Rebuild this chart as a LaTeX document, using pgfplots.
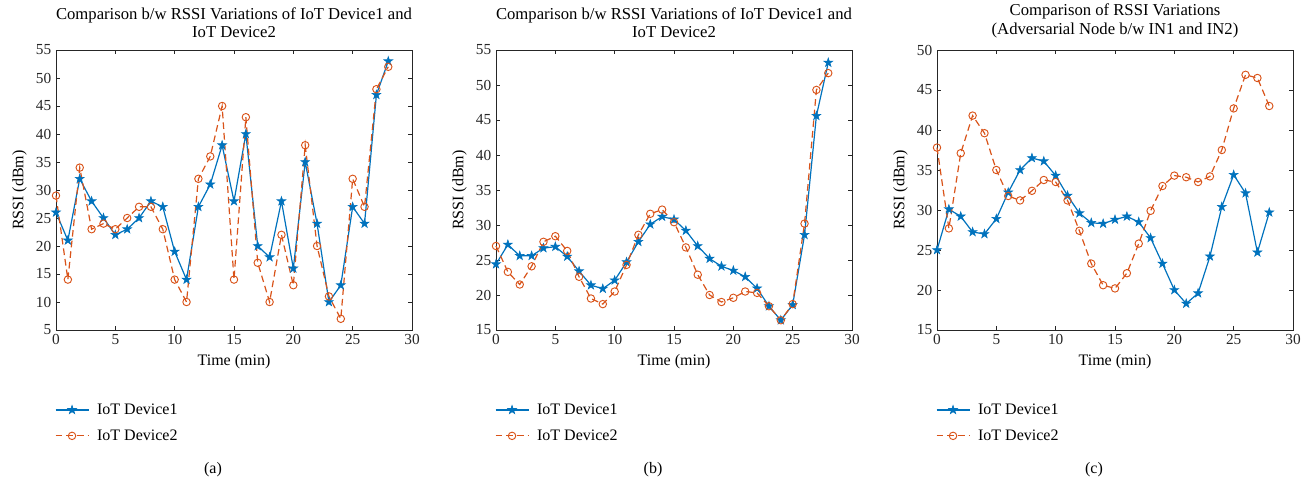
\documentclass[border=0pt]{standalone}
\usepackage{fontspec}
\setmainfont{Liberation Serif}
\usepackage{pgfplots}
\usepackage{pgfplotstable}
\pgfplotsset{compat=1.18}
\definecolor{mblue}{RGB}{0,114,189}
\definecolor{morange}{RGB}{217,83,25}
\definecolor{axgray}{RGB}{38,38,38}

\pgfdeclareplotmark{pstar}{%
  \pgfpathmoveto{\pgfpointpolar{90}{1.3\pgfplotmarksize}}%
  \pgfpathlineto{\pgfpointpolar{126}{0.5\pgfplotmarksize}}%
  \pgfpathlineto{\pgfpointpolar{162}{1.3\pgfplotmarksize}}%
  \pgfpathlineto{\pgfpointpolar{198}{0.5\pgfplotmarksize}}%
  \pgfpathlineto{\pgfpointpolar{234}{1.3\pgfplotmarksize}}%
  \pgfpathlineto{\pgfpointpolar{270}{0.5\pgfplotmarksize}}%
  \pgfpathlineto{\pgfpointpolar{306}{1.3\pgfplotmarksize}}%
  \pgfpathlineto{\pgfpointpolar{342}{0.5\pgfplotmarksize}}%
  \pgfpathlineto{\pgfpointpolar{18}{1.3\pgfplotmarksize}}%
  \pgfpathlineto{\pgfpointpolar{54}{0.5\pgfplotmarksize}}%
  \pgfpathclose
  \pgfusepathqfillstroke
}

% panel (a)
\pgfplotstableread{
x d1 d2
0 26 29
1 21 14
2 32 34
3 28 23
4 25 24
5 22 23
6 23 25
7 25 27
8 28 27
9 27 23
10 19 14
11 14 10
12 27 32
13 31 36
14 38 45
15 28 14
16 40 43
17 20 17
18 18 10
19 28 22
20 16 13
21 35 38
22 24 20
23 10 11
24 13 7
25 27 32
26 24 27
27 47 48
28 53 52
}\dataA

% panel (b)
\pgfplotstableread{
x d1 d2
0 24.4 27.0
1 27.2 23.3
2 25.6 21.5
3 25.6 24.1
4 26.7 27.6
5 26.9 28.4
6 25.5 26.3
7 23.4 22.6
8 21.4 19.5
9 20.9 18.7
10 22.1 20.5
11 24.7 24.3
12 27.6 28.6
13 30.1 31.6
14 31.2 32.2
15 30.8 30.4
16 29.2 26.8
17 27.0 22.9
18 25.2 20.0
19 24.1 19.0
20 23.5 19.6
21 22.6 20.5
22 20.95 20.3
23 18.4 18.4
24 16.4 16.4
25 18.6 18.7
26 28.6 30.2
27 45.6 49.3
28 53.2 51.7
}\dataB

% panel (c)
\pgfplotstableread{
x d1 d2
0 25.0 37.8
1 30.1 27.7
2 29.2 37.1
3 27.25 41.8
4 27.0 39.6
5 28.9 35.0
6 32.2 31.75
7 35.0 31.2
8 36.5 32.4
9 36.1 33.75
10 34.3 33.5
11 31.8 31.2
12 29.6 27.4
13 28.4 23.3
14 28.3 20.6
15 28.8 20.2
16 29.2 22.1
17 28.5 25.8
18 26.5 29.9
19 23.3 33.0
20 20.0 34.3
21 18.3 34.1
22 19.6 33.5
23 24.2 34.2
24 30.4 37.5
25 34.4 42.7
26 32.1 46.9
27 24.7 46.5
28 29.7 43.0
}\dataC

\pgfplotsset{
  panel/.style={
    scale only axis, width=267pt, height=210pt,
    xmin=0, xmax=30, xtick={0,5,...,30},
    tick align=inside, major tick length=3pt,
    axis line style={axgray, line width=0.5pt},
    every tick/.style={axgray, line width=0.5pt},
    tick label style={font=\fontsize{11.5}{12}\selectfont, text=axgray},
    label style={font=\fontsize{12}{13}\selectfont, text=black},
    xlabel={Time (min)}, ylabel={RSSI (dBm)},
    title style={font=\fontsize{12.5}{14}\selectfont, align=center, yshift=-0.5pt},
    /pgf/number format/assume math mode=true,
    clip=false,
    legend style={at={(0,-0.243)}, anchor=north west, xshift=-4pt, draw=none, fill=none,
      font=\fontsize{12}{13}\selectfont, row sep=6pt, cells={anchor=west}},
    legend image code/.code={\draw[mark repeat=2,mark phase=2] plot coordinates {(0cm,0cm)(0.435cm,0cm)(0.87cm,0cm)};\path (0.87cm+4pt,0);},
  },
  dev1/.style={color=mblue, line width=0.9pt, mark=pstar, mark size=2.7pt, mark options={solid, fill=mblue, line width=0.4pt}},
  dev2/.style={color=morange, line width=0.9pt, dash pattern=on 5pt off 3pt, mark=o, mark size=2.8pt, mark options={solid, line width=0.7pt}},
}

\begin{document}
\begin{tikzpicture}
\useasboundingbox (0,0) rectangle (985.5pt,-366.75pt);

\begin{axis}[panel, at={(42pt,-247.5pt)}, anchor=south west,
  ymin=5, ymax=55, ytick={5,10,...,55},
  title={Comparison b/w RSSI Variations of IoT Device1 and\\IoT Device2}]
  \addplot[dev1] table[x=x, y=d1] {\dataA};
  \addlegendentry{IoT Device1}
  \addplot[dev2] table[x=x, y=d2] {\dataA};
  \addlegendentry{IoT Device2}
  \node[font=\fontsize{12}{13}\selectfont] at (rel axis cs:0.441,-0.5) {(a)};
\end{axis}

\begin{axis}[panel, at={(372pt,-247.5pt)}, anchor=south west,
  ymin=15, ymax=55, ytick={15,20,...,55},
  title={Comparison b/w RSSI Variations of IoT Device1 and\\IoT Device2}]
  \addplot[dev1] table[x=x, y=d1] {\dataB};
  \addlegendentry{IoT Device1}
  \addplot[dev2] table[x=x, y=d2] {\dataB};
  \addlegendentry{IoT Device2}
  \node[font=\fontsize{12}{13}\selectfont] at (rel axis cs:0.441,-0.5) {(b)};
\end{axis}

\begin{axis}[panel, at={(702.75pt,-247.5pt)}, anchor=south west,
  ymin=15, ymax=50, ytick={15,20,...,50},
  title={Comparison of RSSI Variations\\(Adversarial Node b/w IN1 and IN2)}]
  \addplot[dev1] table[x=x, y=d1] {\dataC};
  \addlegendentry{IoT Device1}
  \addplot[dev2] table[x=x, y=d2] {\dataC};
  \addlegendentry{IoT Device2}
  \node[font=\fontsize{12}{13}\selectfont] at (rel axis cs:0.441,-0.5) {(c)};
\end{axis}
\end{tikzpicture}
\end{document}
